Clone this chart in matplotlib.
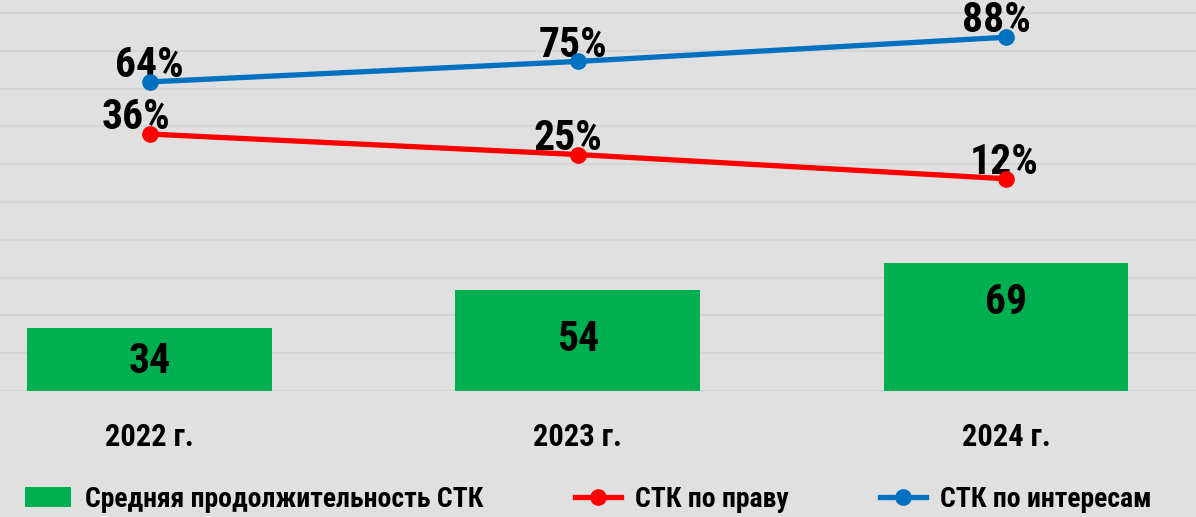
import matplotlib
matplotlib.use("Agg")
import matplotlib.pyplot as plt
from matplotlib.ticker import MultipleLocator

plt.rcParams["font.family"] = ["Roboto Condensed", "DejaVu Sans"]
plt.rcParams["font.weight"] = "bold"

years = ["2022 г.", "2023 г.", "2024 г."]
avg_duration = [34, 54, 69]
by_right = [36, 25, 12]
by_interest = [64, 75, 88]

bar_label_frac = [0.46, 0.51, 0.69]
right_label_dx = [-10, -7, -1.5]
interest_label_dx = [0, -3.5, -6.5]

bg = "#e0e0e0"
fig = plt.figure(figsize=(11.96, 5.17), dpi=100, facecolor=bg)
ax = fig.add_axes([0, 126 / 517, 1, 391 / 517])
ax.set_facecolor(bg)
x = range(len(years))

bars = ax.bar(x, avg_duration, width=0.572, color="#00b050",
              label="Средняя продолжительность СТК", zorder=2)
for i, v in enumerate(avg_duration):
    ax.text(i, v * bar_label_frac[i], str(v), ha="center", va="center",
            fontsize=30, fontweight="bold", zorder=3)
ax.set_xlim(-0.35, 2.444)
ax.set_ylim(0, 210)
ax.yaxis.set_major_locator(MultipleLocator(20.3))
ax.grid(axis="y", color="#d5d5d5", linewidth=1.5, zorder=0)
ax.set_yticklabels([])
ax.tick_params(length=0)
ax.set_xticks(list(x))
ax.set_xticklabels(years, fontsize=22, fontweight="bold")
ax.tick_params(axis="x", pad=22)
for s in ax.spines.values():
    s.set_visible(False)

ax2 = ax.twinx()
ax2.set_ylim(-102, 108)
ax2.axis("off")
l1, = ax2.plot(x, by_right, color="#ff0000", lw=3.8, marker="o", ms=11,
               label="СТК по праву", zorder=4)
l2, = ax2.plot(x, by_interest, color="#0070c0", lw=3.8, marker="o", ms=11,
               label="СТК по интересам", zorder=4)
for i in x:
    ax2.annotate(f"{by_right[i]}%", (i, by_right[i]), xytext=(right_label_dx[i], 3.5),
                 textcoords="offset points", ha="center", va="baseline",
                 fontsize=30, fontweight="bold")
    ax2.annotate(f"{by_interest[i]}%", (i, by_interest[i]), xytext=(interest_label_dx[i], 3.5),
                 textcoords="offset points", ha="center", va="baseline",
                 fontsize=30, fontweight="bold")

fig.legend(handles=[bars, l1, l2], loc="lower center", bbox_to_anchor=(0.492, -0.04),
           ncol=3, frameon=False, fontsize=20, handlelength=1.65,
           columnspacing=3.3, handletextpad=0.5)

fig.savefig("out.png", dpi=100, facecolor=bg)
